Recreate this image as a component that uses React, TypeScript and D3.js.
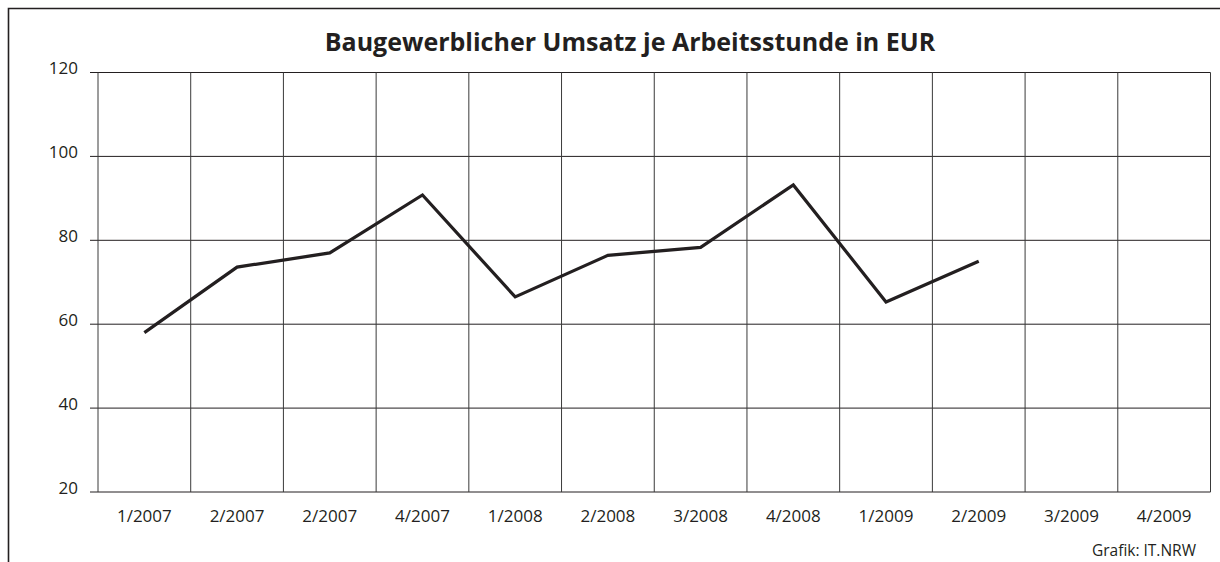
import React, { useEffect, useRef } from 'react';
import * as d3 from 'd3';

const quarters = [
  '1/2007', '2/2007', '2/2007', '4/2007',
  '1/2008', '2/2008', '3/2008', '4/2008',
  '1/2009', '2/2009', '3/2009', '4/2009',
];
const umsatz = [58.0, 73.6, 77.0, 90.8, 66.5, 76.4, 78.3, 93.2, 65.3, 75.0];
const yTicks = [20, 40, 60, 80, 100, 120];

const App = () => {
  const ref = useRef<SVGSVGElement | null>(null);

  useEffect(() => {
    const svg = d3.select(ref.current);
    svg.selectAll('*').remove(); // Clear existing content

    const width = 1220;
    const height = 562;
    const margin = { top: 72.5, right: 9.5, bottom: 70, left: 98 };
    const ink = '#231f20';
    const font = '"Open Sans", "Noto Sans", sans-serif';

    // outer frame (top and left edges only visible)
    svg.append('path')
      .attr('d', `M8.5,${height} V8.5 H${width}`)
      .attr('fill', 'none')
      .attr('stroke', ink)
      .attr('stroke-width', 1.6);

    const xScale = d3.scaleBand()
      .domain(quarters.map((_, i) => String(i)))
      .range([margin.left, width - margin.right]);

    const yScale = d3.scaleLinear()
      .domain([20, 120])
      .range([height - margin.bottom, margin.top]);

    const grid = svg.append('g');

    // horizontal grid + tick stubs
    grid.selectAll('.hline')
      .data(yTicks)
      .enter()
      .append('line')
      .attr('x1', margin.left - 8)
      .attr('x2', width - margin.right)
      .attr('y1', (d) => yScale(d))
      .attr('y2', (d) => yScale(d))
      .attr('stroke', ink)
      .attr('stroke-width', 1);

    // vertical grid lines at band edges
    const edges = quarters.map((_, i) => xScale(String(i)) as number).concat([width - margin.right]);
    grid.selectAll('.vline')
      .data(edges)
      .enter()
      .append('line')
      .attr('x1', (d) => d)
      .attr('x2', (d) => d)
      .attr('y1', margin.top)
      .attr('y2', height - margin.bottom)
      .attr('stroke', '#3a3a3a')
      .attr('stroke-width', 1);

    svg.selectAll('.ylabel')
      .data(yTicks)
      .enter()
      .append('text')
      .attr('x', 78)
      .attr('y', (d) => yScale(d) + 1.5)
      .attr('text-anchor', 'end')
      .attr('font-family', font)
      .attr('font-size', 17)
      .attr('fill', ink)
      .text((d) => d);

    svg.selectAll('.xlabel')
      .data(quarters)
      .enter()
      .append('text')
      .attr('x', (_, i) => (xScale(String(i)) as number) + xScale.bandwidth() / 2)
      .attr('y', 521.5)
      .attr('text-anchor', 'middle')
      .attr('font-family', font)
      .attr('font-size', 17)
      .attr('fill', ink)
      .text((d) => d);

    const line = d3.line<number>()
      .x((_, i) => (xScale(String(i)) as number) + xScale.bandwidth() / 2)
      .y((d) => yScale(d));

    svg.append('path')
      .datum(umsatz)
      .attr('d', line)
      .attr('fill', 'none')
      .attr('stroke', ink)
      .attr('stroke-width', 3.2)
      .attr('stroke-linejoin', 'miter');

    svg.append('text')
      .attr('x', 630)
      .attr('y', 50.5)
      .attr('text-anchor', 'middle')
      .attr('font-family', font)
      .attr('font-weight', 'bold')
      .attr('font-size', 25)
      .attr('fill', ink)
      .text('Baugewerblicher Umsatz je Arbeitsstunde in EUR');

    svg.append('text')
      .attr('x', 1196)
      .attr('y', 556)
      .attr('text-anchor', 'end')
      .attr('font-family', font)
      .attr('font-size', 15.5)
      .attr('fill', ink)
      .text('Grafik: IT.NRW');
  }, []);

  return (
    <div>
      <svg
        ref={ref}
        width={1220}
        height={562}
        style={{ position: 'absolute', left: 0, top: 0, background: '#fff' }}
      />
    </div>
  );
};

export default App;
